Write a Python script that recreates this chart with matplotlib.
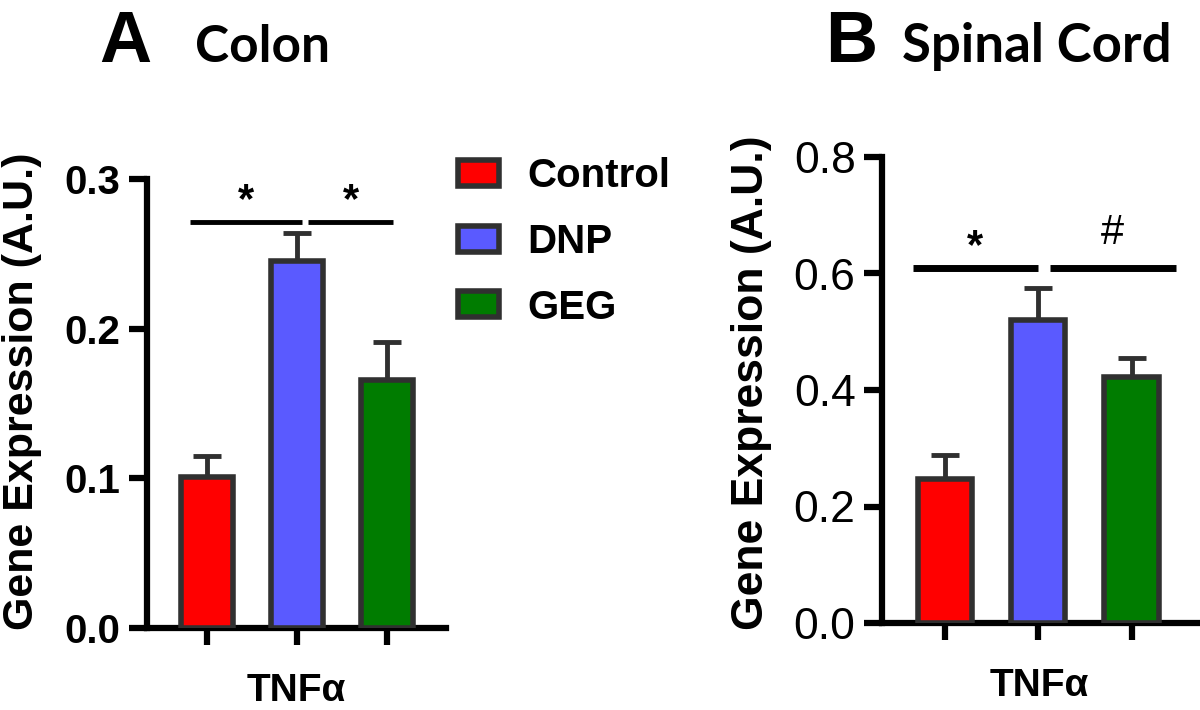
import matplotlib
matplotlib.use("Agg")
import matplotlib.pyplot as plt

plt.rcParams['font.family'] = ['Liberation Sans', 'DejaVu Sans']

#Data
groups = ["Control", "DNP", "GEG"]
colors = ["#ff0000", "#5a5aff", "#007c00"]
gene = "TNF\u03b1"

colon_mean = [0.101, 0.245, 0.166]
colon_err = [0.014, 0.019, 0.025]

spinal_mean = [0.248, 0.521, 0.422]
spinal_err = [0.040, 0.054, 0.033]

#Significance bars: (x start, x end, line y, mark y, mark)
colon_sig = [(-0.19, 1.06, 0.271, 0.285, "*"), (1.12, 2.07, 0.271, 0.285, "*")]
spinal_sig = [(-0.34, 1.0, 0.609, 0.645, "*"), (1.13, 2.47, 0.609, 0.67, "#")]

edge = "#303030"
W, H = 1200, 710

fig = plt.figure(figsize=(12, 7.1), dpi=100)
ax_a = fig.add_axes([147 / W, 1 - 628 / H, (446 - 147) / W, (628 - 179) / H])
ax_b = fig.add_axes([882 / W, 1 - 623 / H, (1197 - 882) / W, (623 - 157) / H])


def draw_panel(ax, means, errs, sig, ymax, step, xlim, tick_font, lw_sig, ylab_size, ylab_y):
    x = list(range(len(means)))
    bars = ax.bar(x, means, width=0.58, color=colors, edgecolor=edge, linewidth=4, zorder=3)
    ax.errorbar(x, means, yerr=[[0] * len(errs), errs], fmt="none", ecolor=edge,
                elinewidth=3.5, capsize=10, capthick=3.5, zorder=2)
    #significance lines and marks
    for x0, x1, y, ty, txt in sig:
        ax.plot([x0, x1], [y, y], color="black", lw=lw_sig, solid_capstyle="butt", clip_on=False)
        ax.text((x0 + x1) / 2, ty, txt, ha="center", va="center",
                fontsize=30, fontweight="bold" if txt == "*" else "normal")
    ax.set_xlim(*xlim)
    ax.set_ylim(0, ymax)
    yt = [round(i * step, 2) for i in range(int(round(ymax / step)) + 1)]
    ax.set_yticks(yt)
    ax.set_yticklabels(["%.1f" % v for v in yt], **tick_font)
    ax.set_xticks(x)
    ax.set_xticklabels([])
    ax.set_xlabel(gene, fontsize=28, fontweight="bold", labelpad=17)
    ax.set_ylabel("Gene Expression (A.U.)", fontsize=ylab_size, fontweight="bold")
    ax.yaxis.set_label_coords(-0.35, ylab_y)
    for s in ["top", "right"]:
        ax.spines[s].set_visible(False)
    for s in ["left", "bottom"]:
        ax.spines[s].set_linewidth(4.5)
    ax.tick_params(axis="y", length=13, width=4.5, pad=6)
    ax.tick_params(axis="x", length=12, width=4.5)
    return bars


bars = draw_panel(ax_a, colon_mean, colon_err, colon_sig, 0.3, 0.1, (-0.667, 2.656),
                  {"fontsize": 29, "fontweight": "bold"}, 3.5, 31, 0.528)
draw_panel(ax_b, spinal_mean, spinal_err, spinal_sig, 0.8, 0.2, (-0.67, 2.70),
           {"fontsize": 32}, 5, 32, 0.515)

#Legend
ax_a.legend(bars, groups, loc="upper left", bbox_to_anchor=(458 / W, 1 - 157 / H),
            bbox_transform=fig.transFigure, frameon=False, borderpad=0, borderaxespad=0,
            handlelength=1.02, handleheight=0.62, handletextpad=0.7, labelspacing=0.69,
            prop={"size": 29, "weight": "bold"})

#Panel titles
fig.text(99 / W, 1 - 62 / H, "A", fontsize=52, fontweight="bold", va="baseline")
fig.text(195 / W, 1 - 62 / H, "Colon", fontsize=37, fontweight="bold", family="Lato", va="baseline")
fig.text(825 / W, 1 - 62 / H, "B", fontsize=52, fontweight="bold", va="baseline")
fig.text(902 / W, 1 - 62 / H, "Spinal Cord", fontsize=38, fontweight="bold", family="Lato", va="baseline")

fig.savefig("out.png", dpi=100)
